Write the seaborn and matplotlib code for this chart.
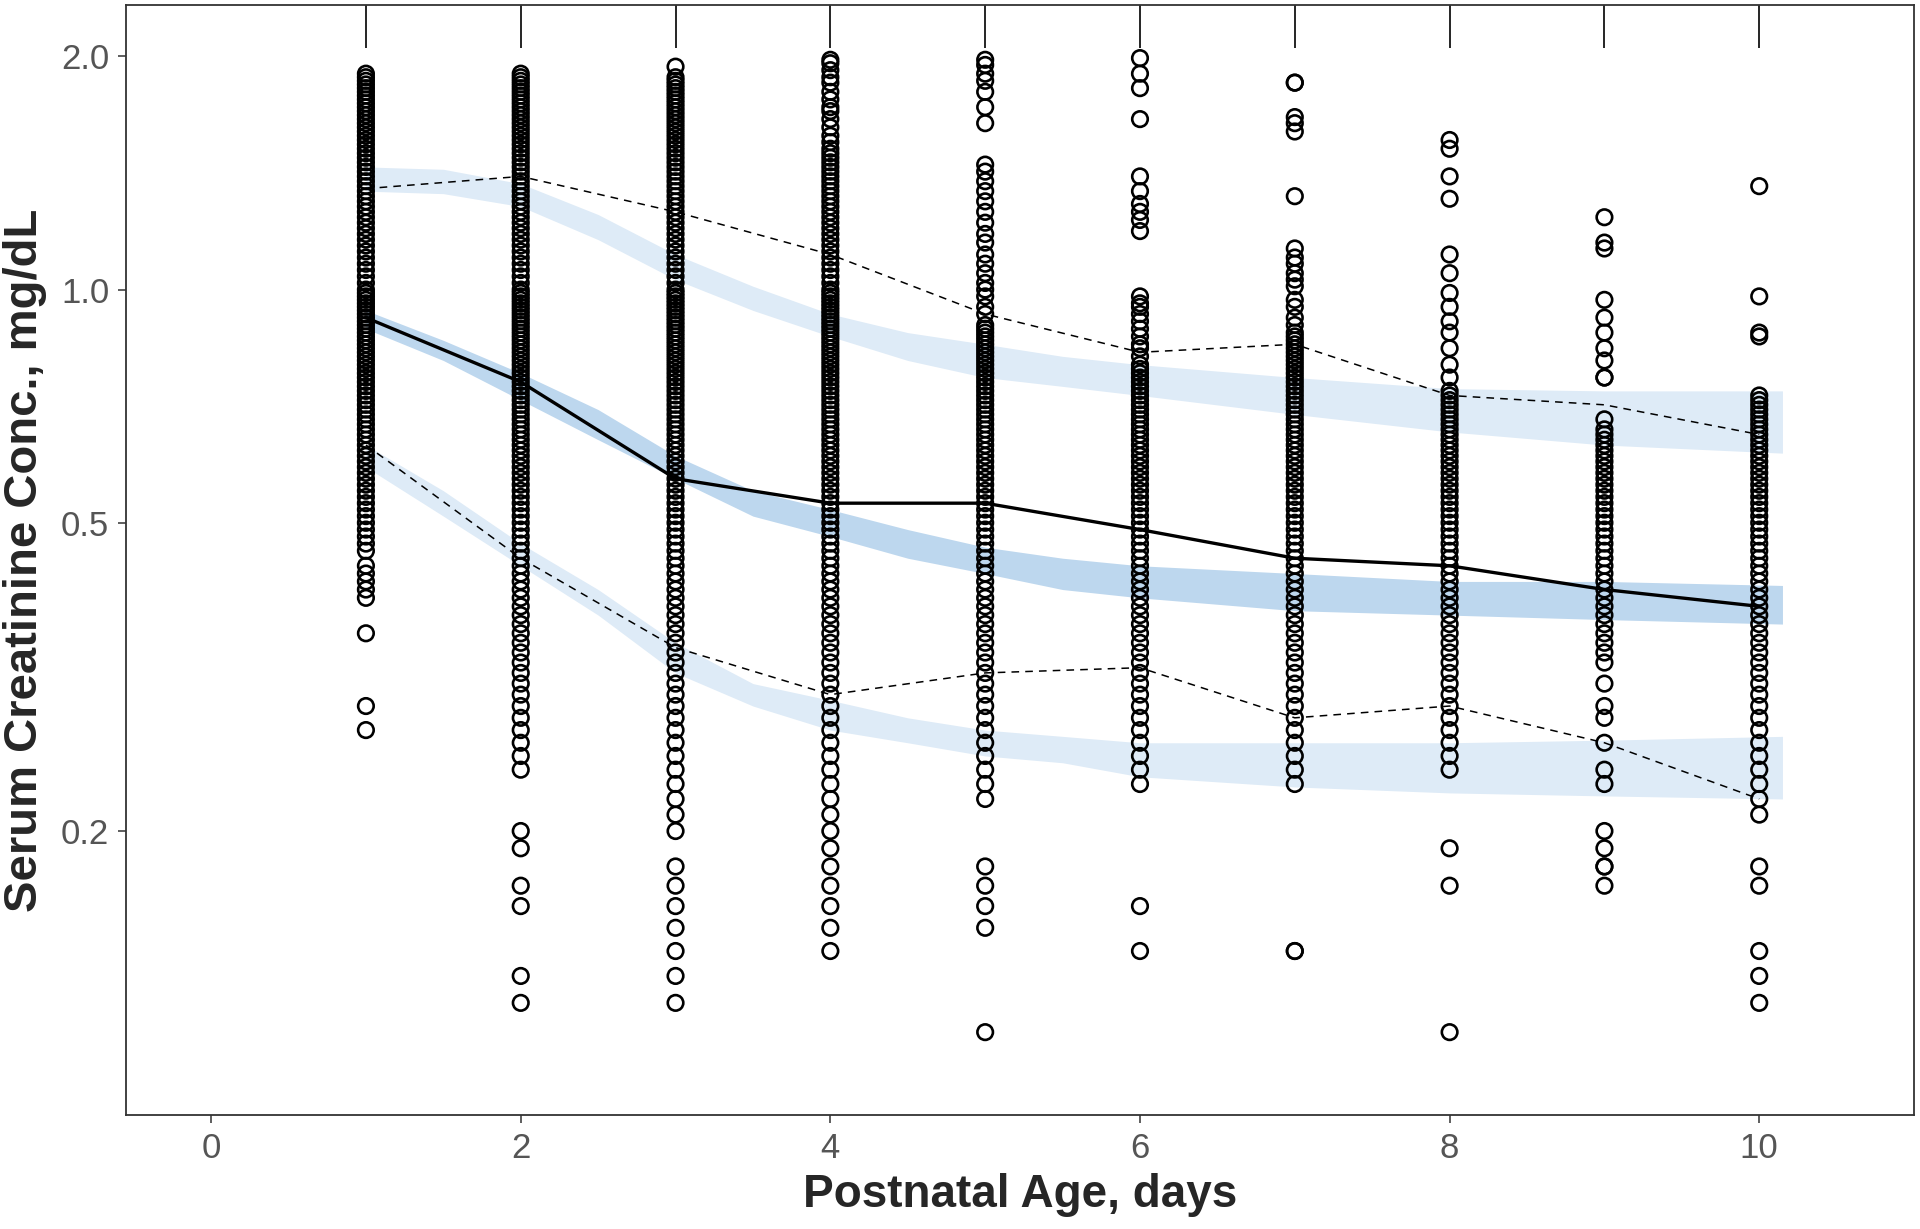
import pandas as pd
import matplotlib
matplotlib.use('Agg')
import matplotlib.pyplot as plt
import seaborn as sns

# observed serum creatinine (mg/dL) by postnatal day
day1 = [1.90, 1.88, 1.86, 1.84, 1.82, 1.80, 1.78, 1.76, 1.74, 1.72,
        1.70, 1.68, 1.66, 1.64, 1.62, 1.60, 1.58, 1.56, 1.54, 1.52,
        1.50, 1.48, 1.46, 1.44, 1.42, 1.40, 1.38, 1.36, 1.34, 1.32,
        1.30, 1.28, 1.26, 1.24, 1.22, 1.20, 1.18, 1.16, 1.14, 1.12,
        1.10, 1.08, 1.06, 1.04, 1.02, 1.00,
        0.99, 0.98, 0.97, 0.96, 0.95, 0.94, 0.93, 0.92, 0.91, 0.90,
        0.89, 0.88, 0.87, 0.86, 0.85, 0.84, 0.83, 0.82, 0.81, 0.80,
        0.79, 0.78, 0.77, 0.76, 0.75, 0.74, 0.73, 0.72, 0.71, 0.70,
        0.69, 0.68, 0.67, 0.66, 0.65, 0.64, 0.63, 0.62, 0.61, 0.60,
        0.59, 0.58, 0.57, 0.56, 0.55, 0.54, 0.53, 0.52, 0.51, 0.50,
        0.49, 0.48, 0.47, 0.46, 0.44, 0.43, 0.42, 0.41, 0.40,
        0.36, 0.29, 0.27]
day2 = [1.90, 1.88, 1.86, 1.84, 1.82, 1.80, 1.78, 1.76, 1.74, 1.72,
        1.70, 1.68, 1.66, 1.64, 1.62, 1.60, 1.58, 1.56, 1.54, 1.52,
        1.50, 1.48, 1.46, 1.44, 1.42, 1.40, 1.38, 1.36, 1.34, 1.32,
        1.30, 1.28, 1.26, 1.24, 1.22, 1.20, 1.18, 1.16, 1.14, 1.12,
        1.10, 1.08, 1.06, 1.04, 1.02, 1.00,
        0.99, 0.98, 0.97, 0.96, 0.95, 0.94, 0.93, 0.92, 0.91, 0.90,
        0.89, 0.88, 0.87, 0.86, 0.85, 0.84, 0.83, 0.82, 0.81, 0.80,
        0.79, 0.78, 0.77, 0.76, 0.75, 0.74, 0.73, 0.72, 0.71, 0.70,
        0.69, 0.68, 0.67, 0.66, 0.65, 0.64, 0.63, 0.62, 0.61, 0.60,
        0.59, 0.58, 0.57, 0.56, 0.55, 0.54, 0.53, 0.52, 0.51, 0.50,
        0.49, 0.48, 0.47, 0.46, 0.45, 0.44, 0.43, 0.42, 0.41, 0.40,
        0.39, 0.38, 0.37, 0.36, 0.35, 0.34, 0.33, 0.32, 0.31, 0.30,
        0.29, 0.28, 0.27, 0.26, 0.25, 0.24,
        0.20, 0.19, 0.17, 0.16, 0.13, 0.12]
day3 = [1.94, 1.88, 1.86, 1.84, 1.82, 1.80, 1.78, 1.76, 1.74, 1.72,
        1.70, 1.68, 1.66, 1.64, 1.62, 1.60, 1.58, 1.56, 1.54, 1.52,
        1.50, 1.48, 1.46, 1.44, 1.42, 1.40, 1.38, 1.36, 1.34, 1.32,
        1.30, 1.28, 1.26, 1.24, 1.22, 1.20, 1.18, 1.16, 1.14, 1.12,
        1.10, 1.08, 1.06, 1.04, 1.02, 1.00,
        0.99, 0.98, 0.97, 0.96, 0.95, 0.94, 0.93, 0.92, 0.91, 0.90,
        0.89, 0.88, 0.87, 0.86, 0.85, 0.84, 0.83, 0.82, 0.81, 0.80,
        0.79, 0.78, 0.77, 0.76, 0.75, 0.74, 0.73, 0.72, 0.71, 0.70,
        0.69, 0.68, 0.67, 0.66, 0.65, 0.64, 0.63, 0.62, 0.61, 0.60,
        0.59, 0.58, 0.57, 0.56, 0.55, 0.54, 0.53, 0.52, 0.51, 0.50,
        0.49, 0.48, 0.47, 0.46, 0.45, 0.44, 0.43, 0.42, 0.41, 0.40,
        0.39, 0.38, 0.37, 0.36, 0.35, 0.34, 0.33, 0.32, 0.31, 0.30,
        0.29, 0.28, 0.27, 0.26, 0.25, 0.24, 0.23, 0.22, 0.21, 0.20,
        0.18, 0.17, 0.16, 0.15, 0.14, 0.13, 0.12]
day4 = [1.98, 1.96, 1.92, 1.88, 1.85, 1.80, 1.76, 1.72, 1.70, 1.66,
        1.62, 1.58, 1.55, 1.52, 1.50, 1.48, 1.46, 1.44, 1.42, 1.40,
        1.38, 1.36, 1.34, 1.32, 1.30, 1.28, 1.26, 1.24, 1.22, 1.20,
        1.18, 1.16, 1.14, 1.12, 1.10, 1.08, 1.06, 1.04, 1.02, 1.00,
        0.99, 0.98, 0.97, 0.96, 0.95, 0.94, 0.93, 0.92, 0.91, 0.90,
        0.89, 0.88, 0.87, 0.86, 0.85, 0.84, 0.83, 0.82, 0.81, 0.80,
        0.79, 0.78, 0.77, 0.76, 0.75, 0.74, 0.73, 0.72, 0.71, 0.70,
        0.69, 0.68, 0.67, 0.66, 0.65, 0.64, 0.63, 0.62, 0.61, 0.60,
        0.59, 0.58, 0.57, 0.56, 0.55, 0.54, 0.53, 0.52, 0.51, 0.50,
        0.49, 0.48, 0.47, 0.46, 0.45, 0.44, 0.43, 0.42, 0.41, 0.40,
        0.39, 0.38, 0.37, 0.36, 0.35, 0.34, 0.33, 0.32, 0.31, 0.30,
        0.29, 0.28, 0.27, 0.26, 0.25, 0.24, 0.23, 0.22, 0.21, 0.20,
        0.19, 0.18, 0.17, 0.16, 0.15, 0.14]
day5 = [1.98, 1.95, 1.90, 1.86, 1.80, 1.72, 1.64, 1.45, 1.42, 1.38,
        1.34, 1.30, 1.26, 1.22, 1.18, 1.15, 1.11, 1.08, 1.05, 1.02,
        1.00, 0.98, 0.95, 0.93, 0.90,
        0.89, 0.88, 0.87, 0.86, 0.85, 0.84, 0.83, 0.82, 0.81, 0.80,
        0.79, 0.78, 0.77, 0.76, 0.75, 0.74, 0.73, 0.72, 0.71, 0.70,
        0.69, 0.68, 0.67, 0.66, 0.65, 0.64, 0.63, 0.62, 0.61, 0.60,
        0.59, 0.58, 0.57, 0.56, 0.55, 0.54, 0.53, 0.52, 0.51, 0.50,
        0.49, 0.48, 0.47, 0.46, 0.45, 0.44, 0.43, 0.42, 0.41, 0.40,
        0.39, 0.38, 0.37, 0.36, 0.35, 0.34, 0.33, 0.32, 0.31, 0.30,
        0.29, 0.28, 0.27, 0.26, 0.25, 0.24, 0.23, 0.22,
        0.18, 0.17, 0.16, 0.15, 0.11]
day6 = [1.99, 1.90, 1.82, 1.66, 1.40, 1.34, 1.29, 1.26, 1.23, 1.19,
        0.98, 0.96, 0.95, 0.93, 0.91, 0.89, 0.87, 0.85, 0.84, 0.82,
        0.80, 0.79, 0.78, 0.77, 0.76, 0.75, 0.74, 0.73, 0.72, 0.71,
        0.70, 0.69, 0.68, 0.67, 0.66, 0.65, 0.64, 0.63, 0.62, 0.61,
        0.60, 0.59, 0.58, 0.57, 0.56, 0.55, 0.54, 0.53, 0.52, 0.51,
        0.50, 0.49, 0.48, 0.47, 0.46, 0.45, 0.44, 0.43, 0.42, 0.41,
        0.40, 0.39, 0.38, 0.37, 0.36, 0.35, 0.34, 0.33, 0.32, 0.31,
        0.30, 0.29, 0.28, 0.27, 0.26, 0.25, 0.24, 0.23,
        0.16, 0.14]
day7 = [1.85, 1.85, 1.67, 1.64, 1.60, 1.32, 1.13, 1.10, 1.08, 1.05,
        1.03, 1.01, 0.97, 0.95, 0.92, 0.90,
        0.88, 0.87, 0.86, 0.85, 0.84, 0.83, 0.82, 0.81, 0.80,
        0.79, 0.78, 0.77, 0.76, 0.75, 0.74, 0.73, 0.72, 0.71, 0.70,
        0.69, 0.68, 0.67, 0.66, 0.65, 0.64, 0.63, 0.62, 0.61, 0.60,
        0.59, 0.58, 0.57, 0.56, 0.55, 0.54, 0.53, 0.52, 0.51, 0.50,
        0.49, 0.48, 0.47, 0.46, 0.45, 0.44, 0.43, 0.42, 0.41, 0.40,
        0.39, 0.38, 0.37, 0.36, 0.35, 0.34, 0.33, 0.32, 0.31, 0.30,
        0.29, 0.28, 0.27, 0.26, 0.25, 0.24, 0.23,
        0.14, 0.14]
day8 = [1.56, 1.52, 1.40, 1.31, 1.11, 1.05, 0.99, 0.95, 0.91, 0.88,
        0.84, 0.80, 0.77,
        0.74, 0.73, 0.72, 0.71, 0.70,
        0.69, 0.68, 0.67, 0.66, 0.65, 0.64, 0.63, 0.62, 0.61, 0.60,
        0.59, 0.58, 0.57, 0.56, 0.55, 0.54, 0.53, 0.52, 0.51, 0.50,
        0.49, 0.48, 0.47, 0.46, 0.45, 0.44, 0.43, 0.42, 0.41, 0.40,
        0.39, 0.38, 0.37, 0.36, 0.35, 0.34, 0.33, 0.32, 0.31, 0.30,
        0.29, 0.28, 0.27, 0.26, 0.25, 0.24,
        0.19, 0.17, 0.11]
day9 = [1.24, 1.15, 1.13, 0.97, 0.92, 0.88, 0.84, 0.81, 0.77, 0.77,
        0.68, 0.66, 0.65, 0.64, 0.63, 0.62, 0.61, 0.60,
        0.59, 0.58, 0.57, 0.56, 0.55, 0.54, 0.53, 0.52, 0.51, 0.50,
        0.49, 0.48, 0.47, 0.46, 0.45, 0.44, 0.43, 0.42, 0.41, 0.40,
        0.39, 0.38, 0.37, 0.36, 0.35, 0.34, 0.33,
        0.31, 0.29, 0.28, 0.26, 0.24, 0.23,
        0.20, 0.19, 0.18, 0.18, 0.17]
day10 = [1.36, 0.98, 0.88, 0.87,
         0.73, 0.72, 0.71, 0.70,
         0.69, 0.68, 0.67, 0.66, 0.65, 0.64, 0.63, 0.62, 0.61, 0.60,
         0.59, 0.58, 0.57, 0.56, 0.55, 0.54, 0.53, 0.52, 0.51, 0.50,
         0.49, 0.48, 0.47, 0.46, 0.45, 0.44, 0.43, 0.42, 0.41, 0.40,
         0.39, 0.38, 0.37, 0.36, 0.35, 0.34, 0.33, 0.32, 0.31, 0.30,
         0.29, 0.28, 0.27, 0.26, 0.25, 0.24, 0.23, 0.22, 0.21,
         0.18, 0.17, 0.14, 0.13, 0.12]

days = [1, 2, 3, 4, 5, 6, 7, 8, 9, 10]

# observed median and 5th / 95th percentiles
obs_median = [0.92, 0.76, 0.57, 0.53, 0.53, 0.49, 0.45, 0.44, 0.41, 0.39]
obs_p95 = [1.35, 1.40, 1.26, 1.11, 0.93, 0.83, 0.85, 0.73, 0.71, 0.65]
obs_p5 = [0.63, 0.45, 0.345, 0.30, 0.32, 0.325, 0.28, 0.29, 0.26, 0.22]

# model-predicted percentile bands (confidence ribbons)
band_x = [1, 1.5, 2, 2.5, 3, 3.5, 4, 4.5, 5, 5.5, 6, 7, 8, 9, 10.15]
p95_hi = [1.44, 1.43, 1.37, 1.25, 1.11, 1.01, 0.93, 0.88, 0.85, 0.82, 0.80, 0.77, 0.745, 0.74, 0.74]
p95_lo = [1.34, 1.33, 1.28, 1.16, 1.03, 0.94, 0.87, 0.81, 0.77, 0.75, 0.73, 0.69, 0.655, 0.63, 0.615]
p50_hi = [0.94, 0.86, 0.78, 0.70, 0.61, 0.55, 0.52, 0.49, 0.465, 0.45, 0.44, 0.43, 0.42, 0.42, 0.415]
p50_lo = [0.89, 0.81, 0.72, 0.64, 0.57, 0.51, 0.48, 0.45, 0.43, 0.41, 0.40, 0.385, 0.38, 0.375, 0.37]
p5_hi = [0.63, 0.55, 0.47, 0.41, 0.35, 0.31, 0.295, 0.28, 0.27, 0.265, 0.26, 0.26, 0.26, 0.262, 0.265]
p5_lo = [0.59, 0.51, 0.44, 0.38, 0.32, 0.29, 0.27, 0.26, 0.25, 0.245, 0.235, 0.228, 0.224, 0.222, 0.22]

cols = [day1, day2, day3, day4, day5, day6, day7, day8, day9, day10]
df = pd.DataFrame([(d, v) for d, vals in zip(days, cols) for v in vals],
                  columns=['day', 'scr'])

sns.set_theme(style='white')
plt.rcParams['font.family'] = ['Liberation Sans', 'DejaVu Sans']

fig, ax = plt.subplots(figsize=(19.2, 12.29), dpi=100)
fig.subplots_adjust(left=0.0656, right=0.9969, top=0.9959, bottom=0.0928)

# ribbons
ax.fill_between(band_x, p95_lo, p95_hi, color='#deebf7', lw=0, zorder=1)
ax.fill_between(band_x, p50_lo, p50_hi, color='#bdd7ee', lw=0, zorder=1)
ax.fill_between(band_x, p5_lo, p5_hi, color='#deebf7', lw=0, zorder=1)

# observations
sns.scatterplot(data=df, x='day', y='scr', ax=ax, s=125, marker='o',
                facecolors='none', edgecolor='black', linewidth=1.9, zorder=2)

# observed percentiles
sns.lineplot(x=days, y=obs_median, ax=ax, color='black', linewidth=2.4, zorder=3)
sns.lineplot(x=days, y=obs_p95, ax=ax, color='black', linewidth=1.1,
             linestyle=(0, (5, 4)), zorder=3)
sns.lineplot(x=days, y=obs_p5, ax=ax, color='black', linewidth=1.1,
             linestyle=(0, (5, 4)), zorder=3)

ax.set_yscale('log')
ax.set_ylim(0.086, 2.33)
ax.set_xlim(-0.55, 11.0)
ax.set_yticks([0.2, 0.5, 1.0, 2.0])
ax.set_yticklabels(['0.2', '0.5', '1.0', '2.0'])
ax.yaxis.set_minor_locator(matplotlib.ticker.NullLocator())
ax.set_xticks([0, 2, 4, 6, 8, 10])

ax.set_xlabel('Postnatal Age, days', fontsize=33, fontweight='bold', labelpad=6)
ax.set_ylabel('Serum Creatinine Conc., mg/dL', fontsize=34, fontweight='bold', labelpad=10)

ax.tick_params(axis='both', which='major', direction='out', length=6, width=1.1,
               color='#333333', labelcolor='#555555', labelsize=25,
               bottom=True, left=True, pad=6)
for sp in ax.spines.values():
    sp.set_color('#333333')
    sp.set_linewidth(1.3)

# rug of sampling days along the top
top = ax.secondary_xaxis('top')
top.set_xticks(days)
top.set_xticklabels([])
top.tick_params(direction='in', length=31, width=1.2, color='black')
top.spines['top'].set_visible(False)

fig.savefig('out.png', dpi=100)
